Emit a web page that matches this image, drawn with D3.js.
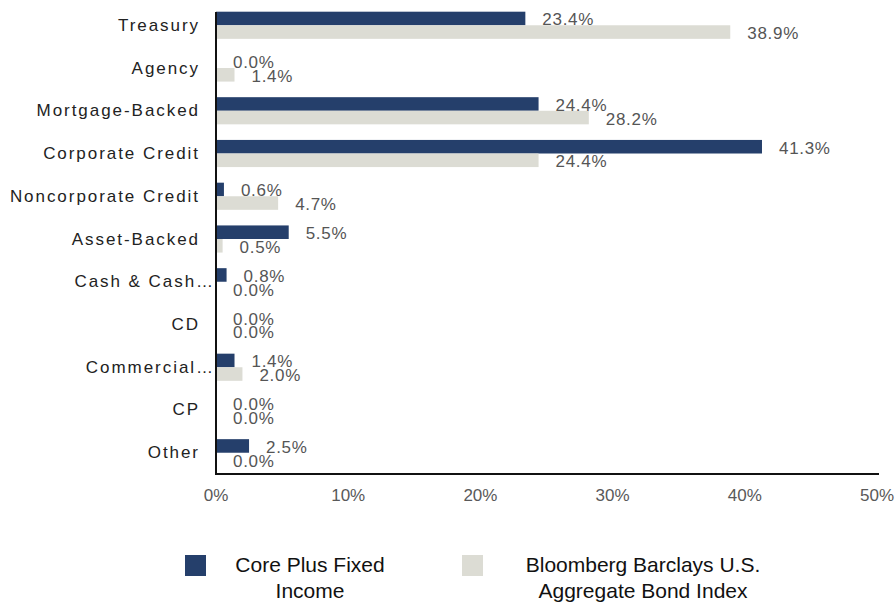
<!DOCTYPE html>
<html>
<head>
<meta charset="utf-8">
<script src="https://cdn.jsdelivr.net/npm/d3@7"></script>
<style>
  body { margin: 0; background: #fff; }
  svg { display: block; font-family: "Liberation Sans", Arial, sans-serif; }
</style>
</head>
<body>
<svg id="chart" width="895" height="603"></svg>
<script>
const categories = ["Treasury", "Agency", "Mortgage-Backed", "Corporate Credit", "Noncorporate Credit",
  "Asset-Backed", "Cash & Cash…", "CD", "Commercial…", "CP", "Other"];
const corePlus = [23.4, 0.0, 24.4, 41.3, 0.6, 5.5, 0.8, 0.0, 1.4, 0.0, 2.5];
const aggIndex = [38.9, 1.4, 28.2, 24.4, 4.7, 0.5, 0.0, 0.0, 2.0, 0.0, 0.0];
const xTicks = [0, 10, 20, 30, 40, 50];
const seriesNames = [["Core Plus Fixed", "Income"], ["Bloomberg Barclays U.S.", "Aggregate Bond Index"]];
const colors = ["#253f6b", "#dcdcd4"];

const svg = d3.select("#chart");
const mLeft = 216, mRight = 877, mTop = 4, mBottom = 474;

const x = d3.scaleLinear().domain([0, 50]).range([mLeft, mRight]);
const y = d3.scaleBand().domain(categories).range([mTop, mBottom]).paddingInner(0.365).paddingOuter(0.18);
const sub = d3.scaleBand().domain([0, 1]).range([0, y.bandwidth()]);

const rows = categories.map((c, i) => ({ cat: c, vals: [corePlus[i], aggIndex[i]] }));

const g = svg.append("g");
const row = g.selectAll(".row").data(rows).enter().append("g")
  .attr("transform", d => `translate(0,${y(d.cat)})`);

row.selectAll("rect").data(d => d.vals).enter().append("rect")
  .attr("x", x(0))
  .attr("y", (d, i) => sub(i))
  .attr("width", d => x(d) - x(0))
  .attr("height", sub.bandwidth())
  .attr("fill", (d, i) => colors[i]);

row.selectAll("text.val").data(d => d.vals).enter().append("text")
  .attr("class", "val")
  .attr("x", d => x(d) + 17)
  .attr("y", (d, i) => sub(i) + sub.bandwidth() / 2 + 1.5)
  .attr("dominant-baseline", "central")
  .style("font-size", "17px")
  .style("letter-spacing", "0.7px")
  .attr("fill", "#555")
  .text(d => d.toFixed(1) + "%");

// category labels (truncated ones run up to the axis)
g.selectAll(".cat").data(categories).enter().append("text")
  .attr("x", d => d.endsWith("…") ? 215 : 200)
  .attr("y", d => y(d) + y.bandwidth() / 2)
  .attr("dominant-baseline", "central")
  .attr("text-anchor", "end")
  .style("font-size", "17px")
  .style("letter-spacing", "1.95px")
  .attr("fill", "#222")
  .text(d => d);

// axes lines
svg.append("line").attr("x1", mLeft).attr("x2", mLeft).attr("y1", mTop + 8).attr("y2", mBottom)
  .attr("stroke", "#111").attr("stroke-width", 2);
svg.append("line").attr("x1", mLeft - 1).attr("x2", mRight + 2).attr("y1", mBottom).attr("y2", mBottom)
  .attr("stroke", "#111").attr("stroke-width", 2);

svg.append("g").selectAll("text").data(xTicks).enter().append("text")
  .attr("x", d => x(d))
  .attr("y", 495)
  .attr("dominant-baseline", "central")
  .attr("text-anchor", "middle")
  .style("font-size", "17px")
  .attr("fill", "#595959")
  .text(d => d + "%");

// legend
const legend = svg.append("g");
const legX = [185, 462], legTextX = [310, 643];
seriesNames.forEach((lines, i) => {
  legend.append("rect").attr("x", legX[i]).attr("y", 555).attr("width", 21).attr("height", 21).attr("fill", colors[i]);
  lines.forEach((t, j) => {
    legend.append("text")
      .attr("x", legTextX[i])
      .attr("y", 572 + j * 26)
      .attr("text-anchor", "middle")
      .style("font-size", "21px")
      .attr("fill", "#111")
      .text(t);
  });
});
</script>
</body>
</html>
